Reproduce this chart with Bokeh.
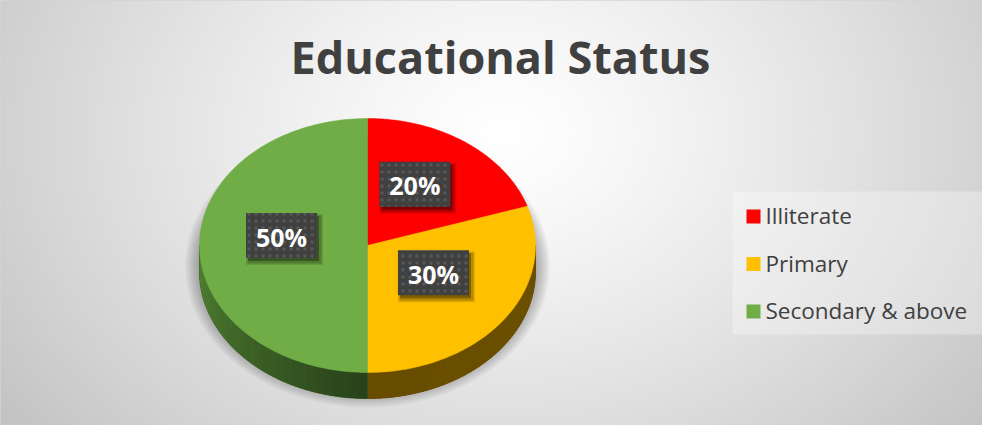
import numpy as np
from bokeh.plotting import figure
from bokeh.models import Range1d
from bokeh.core.properties import value
from bokeh.embed import file_html
from bokeh.resources import INLINE

# ---- data ----
categories = ["Illiterate", "Primary", "Secondary & above"]
shares = [20, 30, 50]
colors = ["#FF0000", "#FFC000", "#70AD47"]
side_light = [(190, 0, 0), (108, 80, 0), (82, 130, 50)]
side_dark = [(120, 0, 0), (104, 77, 0), (40, 66, 27)]
title_text = "Educational Status"

W, H = 982, 425
PAGE_H = 441


def Y(py):
    # page pixel y -> data y
    return PAGE_H - py


p = figure(width=W, height=H, output_backend="svg", toolbar_location=None,
           x_range=Range1d(8, 8 + W), y_range=Range1d(8, 8 + H),
           min_border=0)
p.axis.visible = False
p.grid.visible = False
p.outline_line_color = "#d4d4d4"
p.background_fill_color = "#ececec"
p.border_fill_color = "#ffffff"

# ---- radial gradient background ----
gw, gh = 491, 213
xs = np.linspace(8, 8 + W, gw)
ys_page = np.linspace(8 + H, 8, gh)  # row 0 = bottom
XX, YY = np.meshgrid(xs, ys_page)
r = np.sqrt(((XX - 510) / 560.0) ** 2 + ((YY - 140) / 430.0) ** 2)
v = 255 - 52 * np.clip(r, 0, 1.15) ** 1.25
v = np.clip(v, 0, 255).astype(np.uint8)
img = np.zeros((gh, gw), dtype=np.uint32)
view = img.view(dtype=np.uint8).reshape((gh, gw, 4))
view[:, :, 0] = v
view[:, :, 1] = v
view[:, :, 2] = v
view[:, :, 3] = 255
p.image_rgba(image=[img], x=8, y=8, dw=W, dh=H)

# ---- title ----
p.text(x=[508], y=[Y(64)], text=[title_text], text_align="center",
       text_baseline="middle", text_font=value("Open Sans"),
       text_font_style="bold", text_font_size="45px", text_color="#404040")

# ---- pie geometry ----
cx, cy, rx, ry, depth = 375.0, 253.0, 168.0, 127.0, 26.0

# soft shadow under the pie
for k in range(10):
    p.ellipse(x=[cx], y=[Y(cy + depth * 0.6 + 5)], width=[2 * rx + 2 + 3 * k],
              height=[2 * ry + 2 + 3 * k], fill_color="black",
              fill_alpha=0.03, line_color=None)

bounds = np.cumsum([0] + shares) * 3.6


def side_poly(t0d, t1d, n=60):
    th = np.radians(np.linspace(t0d, t1d, n))
    top_x = list(cx + rx * np.sin(th))
    top_y = list(cy - ry * np.cos(th))
    px = top_x + top_x[::-1]
    py = top_y + [q + depth for q in top_y[::-1]]
    return px, [Y(q) for q in py]


# sides: base polygon per slice, then shaded segments on top
base_xs, base_ys, base_cols = [], [], []
seg_xs, seg_ys, seg_cols = [], [], []
for i in range(len(shares)):
    a0, a1 = bounds[i], bounds[i + 1]
    s0, s1 = max(a0, 90), min(a1, 270)
    if s1 <= s0:
        continue
    bx, by = side_poly(s0, s1)
    base_xs.append(bx)
    base_ys.append(by)
    mid = tuple((side_dark[i][j] + side_light[i][j]) // 2 for j in range(3))
    base_cols.append("#%02x%02x%02x" % mid)
    n = int(np.ceil((s1 - s0) / 3.0))
    th = np.linspace(s0, s1, n + 1)
    for k in range(n):
        e = min(th[k + 1] + 1.0, s1)
        sx, sy = side_poly(th[k], e, n=6)
        tm = (th[k] + th[k + 1]) / 2
        f = abs(tm - 180) / 90.0
        c = tuple(int(side_dark[i][j] + (side_light[i][j] - side_dark[i][j]) * f)
                  for j in range(3))
        seg_xs.append(sx)
        seg_ys.append(sy)
        seg_cols.append("#%02x%02x%02x" % c)
p.patches(xs=base_xs, ys=base_ys, fill_color=base_cols, line_color=base_cols,
          line_width=1)
p.patches(xs=seg_xs, ys=seg_ys, fill_color=seg_cols, line_color=None)

# top faces
top_xs, top_ys = [], []
for i in range(len(shares)):
    th = np.radians(np.linspace(bounds[i], bounds[i + 1], 120))
    top_xs.append([cx] + list(cx + rx * np.sin(th)))
    top_ys.append([Y(cy)] + [Y(q) for q in (cy - ry * np.cos(th))])
p.patches(xs=top_xs, ys=top_ys, fill_color=colors, line_color=colors,
          line_width=0.5)

# ---- data labels ----
lx, ly, lt = [], [], []
for i, s in enumerate(shares):
    mid = np.radians((bounds[i] + bounds[i + 1]) / 2)
    lx.append(cx + 0.5 * rx * np.sin(mid) - 2)
    ly.append(Y(cy - 0.5 * ry * np.cos(mid) - 10))
    lt.append(f"{s}%")

for dx, dy, a, grow in [(3, -4, 0.12, 6), (3, -4, 0.18, 3), (2, -3, 0.3, 0)]:
    p.rect(x=[q + dx for q in lx], y=[q + dy for q in ly], width=71 + grow,
           height=45 + grow, fill_color="black", fill_alpha=a, line_color=None)
p.rect(x=lx, y=ly, width=71, height=45, fill_color="#404040", line_color=None,
       hatch_pattern="dot", hatch_color="#575757", hatch_scale=7,
       hatch_weight=2.5)
p.text(x=lx, y=[q - 1 for q in ly], text=lt, text_align="center",
       text_baseline="middle", text_font=value("Open Sans"),
       text_font_style="bold", text_font_size="25px", text_color="#ffffff")

# ---- legend ----
p.quad(left=[740], right=[992], top=[Y(199)], bottom=[Y(342)],
       fill_color="#ffffff", fill_alpha=0.3, line_color=None)
leg_y = [Y(224 + 47.5 * i) for i in range(len(categories))]
p.rect(x=[761] * len(categories), y=leg_y, width=14, height=14,
       fill_color=colors, line_color=None)
p.text(x=[773] * len(categories), y=[q + 1 for q in leg_y], text=categories,
       text_align="left", text_baseline="middle", text_font=value("Open Sans"),
       text_font_size="22.5px", text_color="#404040")

open("out.html", "w").write(file_html(p, INLINE))
